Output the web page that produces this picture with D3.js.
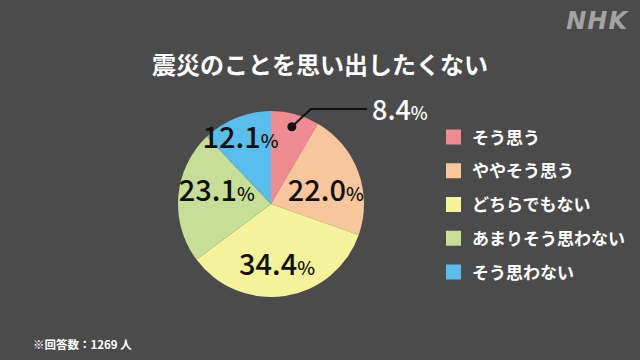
<!DOCTYPE html>
<html>
<head>
<meta charset="utf-8">
<script src="https://cdn.jsdelivr.net/npm/d3@7"></script>
<style>
	html, body { margin: 0; padding: 0; background: #4b4b4b; }
	svg { display: block; }
	text { font-family: "Noto Sans CJK JP", "Noto Sans", sans-serif; }
</style>
</head>
<body>
<div id="chart"></div>
<script>
const title = '震災のことを思い出したくない';
const categories = ['そう思う', 'ややそう思う', 'どちらでもない', 'あまりそう思わない', 'そう思わない'];
const values = [8.4, 22.0, 34.4, 23.1, 12.1];
const colors = ['#ee8b93', '#f8c69c', '#f4f29b', '#c6de97', '#5bbdec'];
const note = '※回答数：1269 人';

document.addEventListener('DOMContentLoaded', () => {
	let width = 640, height = 360;
	let cx = 271, cy = 204, radius = 93;

	let svg = d3.select('#chart')
		.append('svg')
			.attr('width', width)
			.attr('height', height);

	svg.append('rect')
		.attr('width', width)
		.attr('height', height)
		.attr('fill', '#4b4b4b');

	// logo
	svg.append('text')
		.attr('x', 628)
		.attr('y', 29)
		.attr('text-anchor', 'end')
		.style('font-family', '"DejaVu Sans", sans-serif')
		.style('font-weight', 'bold')
		.style('font-style', 'italic')
		.style('font-size', '24px')
		.style('letter-spacing', '1px')
		.attr('fill', '#a3a3a3')
		.text('NHK');

	svg.append('text')
		.attr('x', 320)
		.attr('y', 74)
		.attr('text-anchor', 'middle')
		.style('font-weight', 'bold')
		.style('font-size', '24px')
		.attr('fill', '#ffffff')
		.text(title);

	let pie = d3.pie().sort(null).value((d) => d);
	let arcs = pie(values);
	let arc = d3.arc().innerRadius(0).outerRadius(radius);

	let g = svg.append('g')
		.attr('transform', 'translate(' + cx + ', ' + cy + ')');

	g.selectAll('path')
		.data(arcs)
		.enter().append('path')
			.attr('d', arc)
			.attr('fill', (d, i) => colors[i]);

	// labels inside slices (first slice labelled outside)
	let labelArc = d3.arc().innerRadius(radius * 0.65).outerRadius(radius * 0.65);
	let nudge = [[0, 0], [-2, 8], [-3, 1], [6, -8], [-8, -10]];

	arcs.forEach((d, i) => {
		if (i === 0) return;
		let c = labelArc.centroid(d);
		let t = g.append('text')
			.attr('x', c[0] + nudge[i][0])
			.attr('y', c[1] + nudge[i][1] + 10)
			.attr('text-anchor', 'middle')
			.style('font-weight', '500')
			.attr('fill', '#111');
		t.append('tspan').style('font-size', '29px').text(values[i].toFixed(1));
		t.append('tspan').style('font-size', '19px').text('%');
	});

	// leader for first slice
	let dotArc = d3.arc().innerRadius(radius * 0.86).outerRadius(radius * 0.86);
	let p = dotArc.centroid(arcs[0]);
	g.append('circle')
		.attr('cx', p[0])
		.attr('cy', p[1])
		.attr('r', 4.5)
		.attr('fill', '#111');
	g.append('polyline')
		.attr('points', [p, [p[0] + 19, -95], [96, -95]].map((q) => q.join(',')).join(' '))
		.attr('fill', 'none')
		.attr('stroke', '#111')
		.attr('stroke-width', 2);
	let t0 = g.append('text')
		.attr('x', 101)
		.attr('y', -84)
		.style('font-weight', '500')
		.attr('fill', '#fff');
	t0.append('tspan').style('font-size', '27px').text(values[0].toFixed(1));
	t0.append('tspan').style('font-size', '18px').text('%');

	// legend
	let y = d3.scalePoint().domain(categories).range([137, 272]);
	let legend = svg.append('g');
	categories.forEach((c, i) => {
		legend.append('rect')
			.attr('x', 446)
			.attr('y', y(c) - 7.5)
			.attr('width', 15)
			.attr('height', 15)
			.attr('fill', colors[i]);
		legend.append('text')
			.attr('x', 472)
			.attr('y', y(c) + 6.5)
			.style('font-weight', 'bold')
			.style('font-size', '17px')
			.attr('fill', '#fff')
			.text(c);
	});

	svg.append('text')
		.attr('x', 33)
		.attr('y', 349)
		.style('font-weight', 'bold')
		.style('font-size', '11.5px')
		.attr('fill', '#fff')
		.text(note);
});
</script>
</body>
</html>
